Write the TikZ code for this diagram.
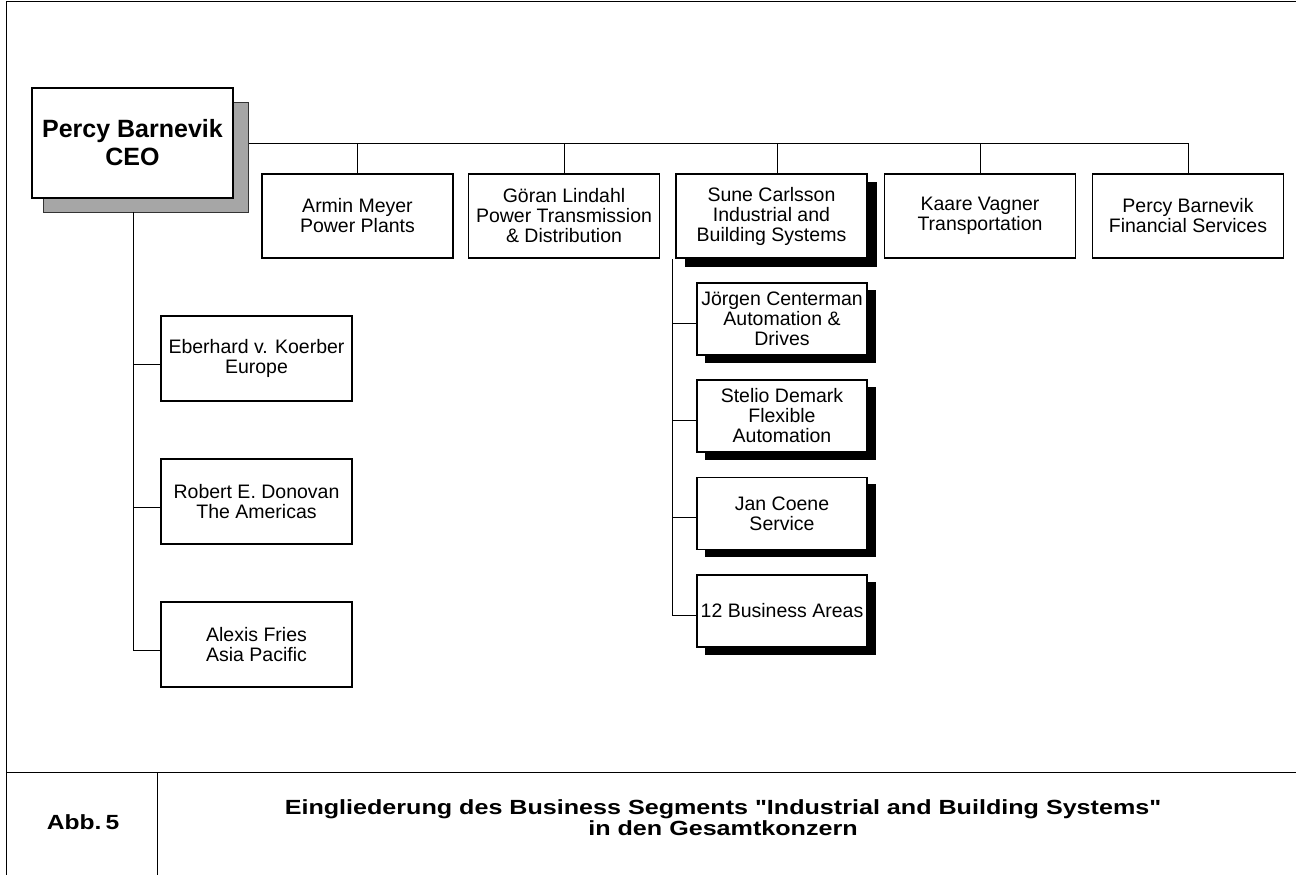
\documentclass[tikz,border=0pt]{standalone}
\usepackage{fontspec}
\setmainfont{Liberation Sans}
\usepackage{graphicx}
\begin{document}
\begin{tikzpicture}[x=1pt,y=-1pt,
  conn/.style={line width=0.9pt},
  frameline/.style={line width=0.9pt},
  box/.style={draw, line width=1.2pt, fill=white, minimum width=191pt, minimum height=84pt,
    inner sep=0pt, align=center, font=\fontsize{19.5}{20}\selectfont},
  subbox/.style={box, minimum width=170pt, minimum height=72pt},
  blackshadow/.style={draw, fill=black, line width=0.8pt, inner sep=0pt},
  grayshadow/.style={draw=black!80, fill=gray!70, line width=1pt, inner sep=0pt},
  captext/.style={font=\bfseries\fontsize{20.5}{21}\selectfont, inner sep=0pt},
]
\useasboundingbox (0,0) rectangle (1296,875);

% frame
\draw[frameline] (6,875) -- (6,1.5) -- (1296,1.5);
\draw[frameline] (6,772) -- (1296,772);
\draw[frameline] (157,772) -- (157,875);

% CEO
\node[grayshadow, minimum width=205pt, minimum height=110pt] (ceoshadow) at (145.5,157) {};
\node[box, minimum width=201pt, minimum height=110pt,
  font=\bfseries\fontsize{25}{28}\selectfont] (ceo) at (132.5,143) {Percy Barnevik\\CEO};

% top row
\node[box] (armin) at (357.5,216) {Armin Meyer\\Power Plants};
\node[box] (goeran) at (564,216) {Göran Lindahl\\Power Transmission\\\& Distribution};
\node[blackshadow, minimum width=191pt, minimum height=84pt] (suneshadow) at (780.5,224) {};
\node[box] (sune) at (771.5,216) {Sune Carlsson\\Industrial and\\Building Systems};
\node[box] (kaare) at (980,216) {Kaare Vagner\\Transportation};
\node[box] (percy) at (1188,216) {Percy Barnevik\\Financial Services};

% bus
\coordinate (busstart) at (ceoshadow.east |- ceo.east);
\draw[conn] (busstart) -- (percy.north |- ceo.east) -- (percy.north);
\draw[conn] (armin.north) -- (armin.north |- ceo.east);
\draw[conn] (goeran.north) -- (goeran.north |- ceo.east);
\draw[conn] ([xshift=5.5pt]sune.north) -- ([xshift=5.5pt]sune.north |- ceo.east);
\draw[conn] (kaare.north) -- (kaare.north |- ceo.east);

% regions
\node[box, minimum height=85pt] (eberhard) at (256.5,358.5) {Eberhard v. Koerber\\Europe};
\node[box, minimum height=85pt] (robert) at (256.5,501.5) {Robert E. Donovan\\The Americas};
\node[box, minimum height=85pt] (alexis) at (256.5,644.5) {Alexis Fries\\Asia Pacific};
\coordinate (ltrunk) at (133,212);
\draw[conn] ([yshift=-5.5pt]eberhard.west) -| (ltrunk);
\draw[conn] ([yshift=-5.5pt]robert.west) -| (ltrunk);
\draw[conn] ([yshift=-5.5pt]alexis.west) -| (ltrunk);

% Sune subtree
\foreach \n/\y in {joergen/319, stelio/416, jan/513.5, twelve/611}{
  \node[blackshadow, minimum width=170pt, minimum height=72pt] (\n shadow) at (790,\y+7) {};
}
\node[subbox] (joergen) at (782,319) {Jörgen Centerman\\Automation \&\\Drives};
\node[subbox] (stelio) at (782,416) {Stelio Demark\\Flexible\\Automation};
\node[subbox] (jan) at (782,513.5) {Jan Coene\\Service};
\node[subbox] (twelve) at (782,611) {12 Business Areas};
\coordinate (strunk) at ([xshift=-3pt]sune.south west);
\draw[conn] ([yshift=-4pt]joergen.west) -| (strunk);
\draw[conn] ([yshift=-4pt]stelio.west) -| (strunk);
\draw[conn] ([yshift=-4pt]jan.west) -| (strunk);
\draw[conn] ([yshift=-4pt]twelve.west) -| (strunk);

% caption
\node[captext] (abb) at (83,822) {\scalebox{1.2}[1]{Abb.\,5}};
\node[captext] (caption) at (723,821) {\scalebox{1.225}[1]{\begin{tabular}{@{}c@{}}Eingliederung des Business Segments \textquotedbl Industrial and Building Systems\textquotedbl\\in den Gesamtkonzern\end{tabular}}};
\end{tikzpicture}
\end{document}
